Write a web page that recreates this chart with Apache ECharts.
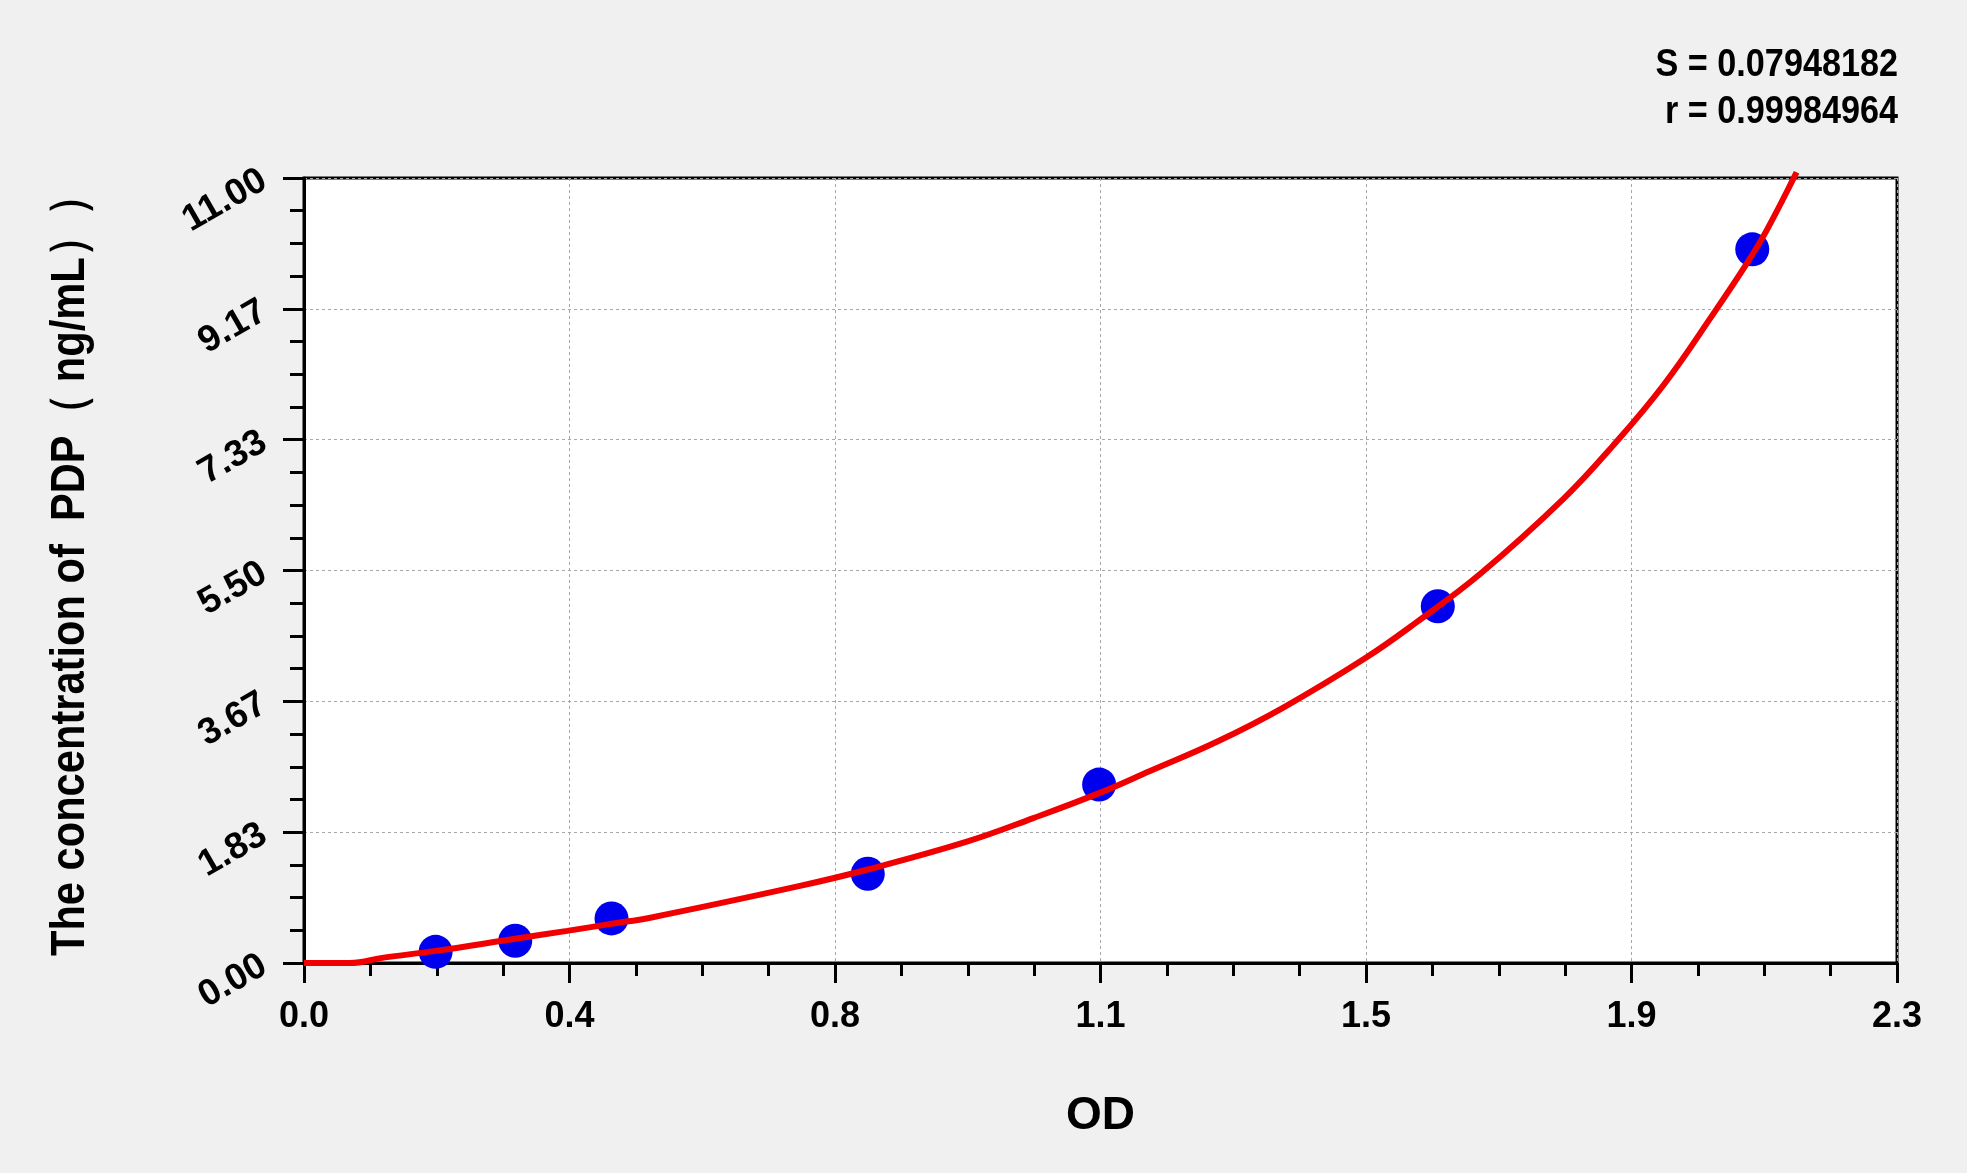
<!DOCTYPE html>
<html>
<head>
<meta charset="utf-8">
<title>PDP standard curve</title>
<script src="https://cdn.jsdelivr.net/npm/echarts@6/dist/echarts.min.js"></script>
<style>
  html, body { margin: 0; padding: 0; background: #f0f0f0; }
  #main { width: 1967px; height: 1173px; }
</style>
</head>
<body>
<div id="main"></div>
<script>
// standard points (OD vs concentration)
var stdOD = [0.190, 0.305, 0.444, 0.814, 1.148, 1.637, 2.091];
var stdConc = [0.156, 0.312, 0.625, 1.25, 2.5, 5, 10];

// fitted curve
var curveOD = [0, 0.066, 0.115, 0.19, 0.305, 0.38, 0.444, 0.50, 0.716, 0.814, 0.957, 1.053, 1.148, 1.2215, 1.318, 1.414, 1.532, 1.607, 1.698, 1.818, 1.89, 1.963, 2.035, 2.083, 2.112, 2.155];
var curveConc = [0, 0, 0.075, 0.17, 0.34, 0.45, 0.55, 0.635, 1.08, 1.31, 1.70, 2.03, 2.38, 2.69, 3.10, 3.58, 4.27, 4.78, 5.45, 6.50, 7.25, 8.10, 9.10, 9.80, 10.27, 11.08];

var fitText = ['S = 0.07948182', 'r = 0.99984964'];
var yTitle = 'The concentration of  PDP（ ng/mL））';

var font = '"Liberation Sans", Arial, sans-serif';

var chart = echarts.init(document.getElementById('main'));

var option = {
  backgroundColor: '#f0f0f0',
  animation: false,
  grid: {
    left: 304, right: 70, top: 178, bottom: 210,
    show: true,
    backgroundColor: '#ffffff',
    borderColor: '#000',
    borderWidth: 3
  },
  graphic: [
    {
      type: 'text', x: 1898, y: 66, scaleX: 0.9,
      style: { text: fitText[0], fill: '#000', font: 'bold 38px ' + font, textAlign: 'right', textVerticalAlign: 'middle' }
    },
    {
      type: 'text', x: 1898, y: 113, scaleX: 0.9,
      style: { text: fitText[1], fill: '#000', font: 'bold 38px ' + font, textAlign: 'right', textVerticalAlign: 'middle' }
    },
    // y axis title, drawn narrow like the original
    {
      type: 'text', x: 70, y: 565, rotation: Math.PI / 2, scaleX: 0.85,
      style: { text: yTitle, fill: '#000', font: 'bold 49px ' + font, textAlign: 'center', textVerticalAlign: 'middle' }
    }
  ],
  xAxis: {
    type: 'value',
    min: 0, max: 2.3, interval: 2.3 / 6,
    name: 'OD',
    nameLocation: 'middle',
    nameGap: 130,
    nameTextStyle: { fontFamily: font, fontWeight: 'bold', fontSize: 46, color: '#000' },
    axisLine: { lineStyle: { color: '#000', width: 3 } },
    axisTick: { show: true, length: 20, lineStyle: { color: '#000', width: 3 } },
    minorTick: { show: true, splitNumber: 4, length: 13, lineStyle: { color: '#000', width: 3 } },
    axisLabel: {
      margin: 36, color: '#000', fontFamily: font, fontWeight: 'bold', fontSize: 36,
      formatter: function (v) { return v.toFixed(1); }
    },
    splitLine: { show: true, lineStyle: { color: '#a8a8a8', width: 1, type: [3, 3] } }
  },
  yAxis: {
    type: 'value',
    min: 0, max: 11, interval: 11 / 6,
    axisLine: { lineStyle: { color: '#000', width: 3 } },
    axisTick: { show: true, length: 21, lineStyle: { color: '#000', width: 3 } },
    minorTick: { show: true, splitNumber: 4, length: 14, lineStyle: { color: '#000', width: 3 } },
    axisLabel: {
      margin: 40, rotate: 30, color: '#000', fontFamily: font, fontWeight: 'bold', fontSize: 37,
      formatter: function (v) { return v.toFixed(2); }
    },
    splitLine: { show: true, lineStyle: { color: '#a8a8a8', width: 1, type: [3, 3] } }
  },
  series: [
    {
      type: 'scatter',
      data: stdOD.map(function (x, i) { return [x, stdConc[i]]; }),
      symbolSize: 34,
      itemStyle: { color: '#0000ee', opacity: 1 },
      z: 2
    },
    {
      type: 'line',
      data: curveOD.map(function (x, i) { return [x, curveConc[i]]; }),
      smooth: 0.4,
      showSymbol: false,
      clip: false,
      lineStyle: { color: '#f00000', width: 6 },
      z: 3
    }
  ]
};

chart.setOption(option);
</script>
</body>
</html>
